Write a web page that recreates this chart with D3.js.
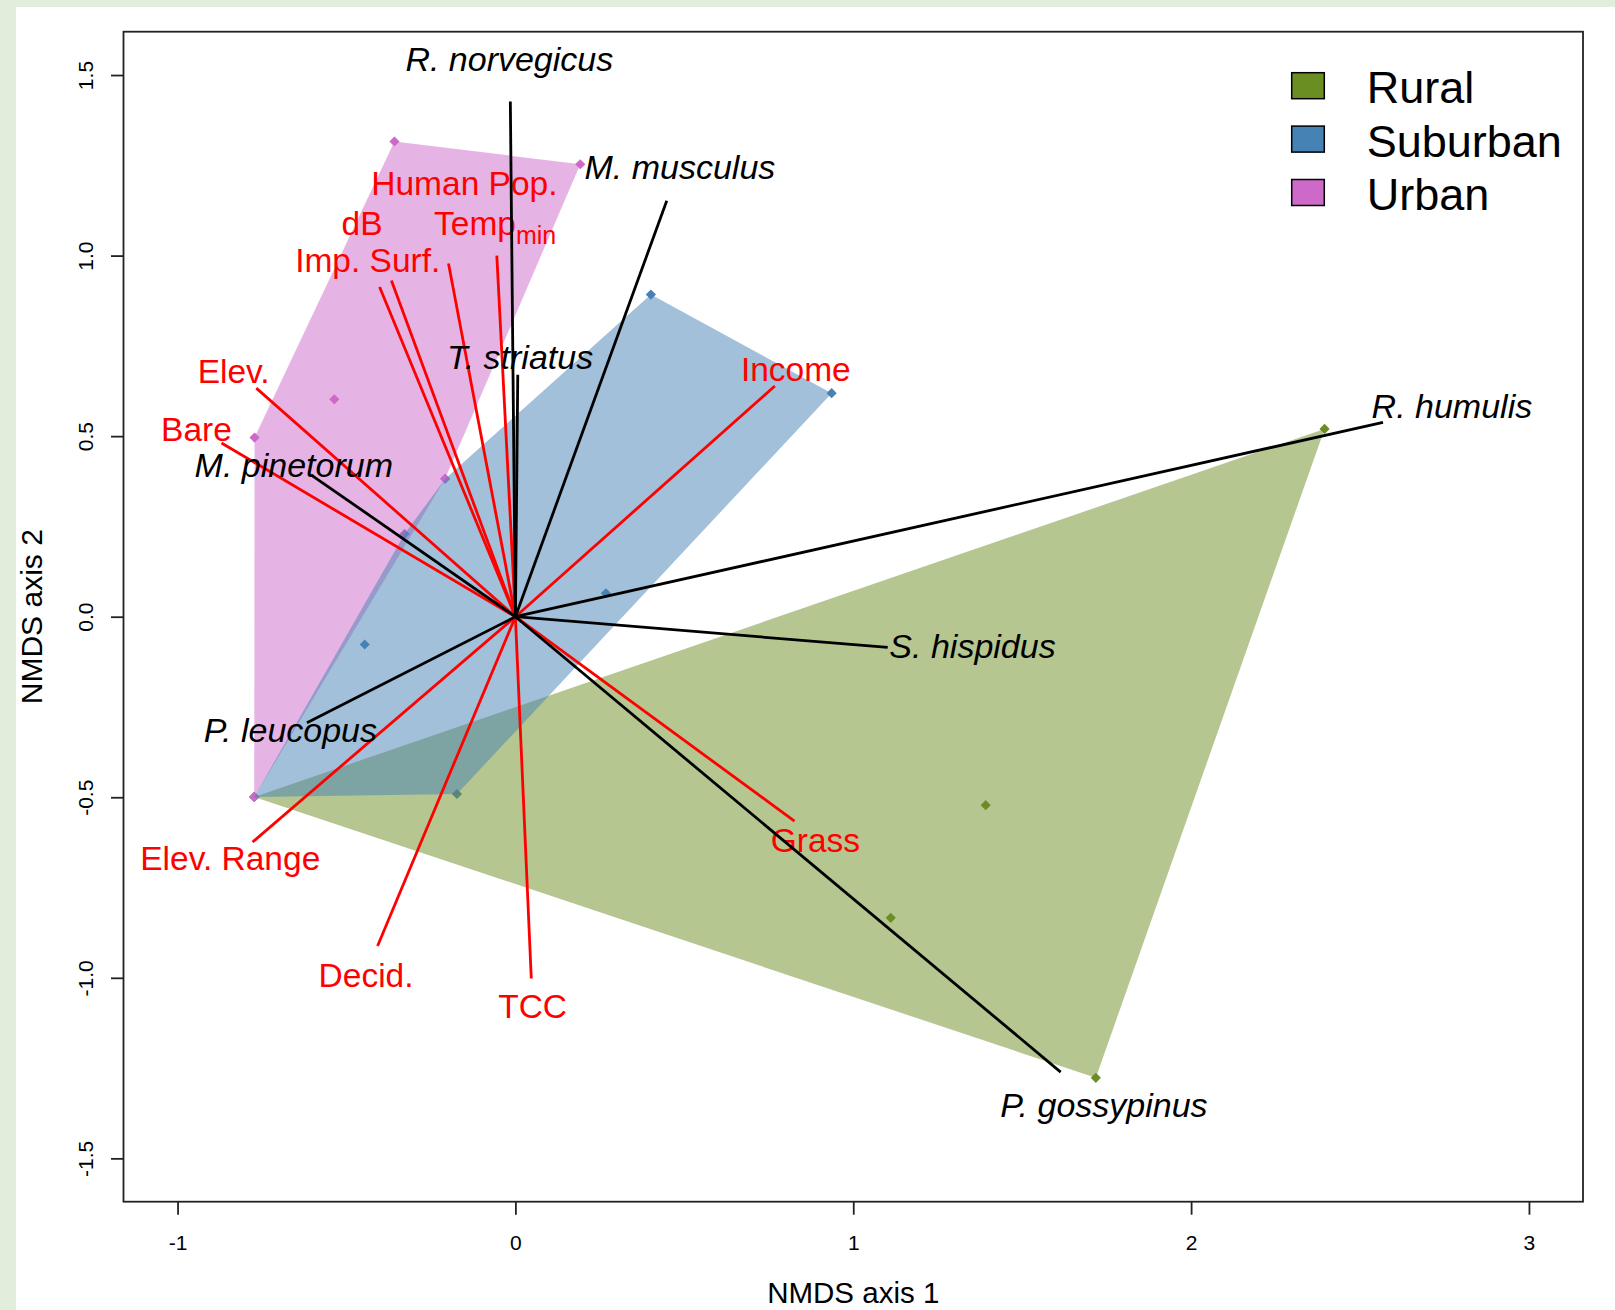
<!DOCTYPE html>
<html>
<head>
<meta charset="utf-8">
<script src="https://cdn.jsdelivr.net/npm/d3@7"></script>
<style>
  html, body { margin: 0; padding: 0; background: #ffffff; }
  svg { display: block; font-family: "Liberation Sans", Arial, sans-serif; }
</style>
</head>
<body>
<svg id="chart" width="1615" height="1310"></svg>
<script>
// ---- axis ticks ----
const xTicks = [-1, 0, 1, 2, 3];
const yTicks = [-1.5, -1, -0.5, 0, 0.5, 1, 1.5];

// ---- site groups (NMDS scores) ----
const groups = ["Rural", "Suburban", "Urban"];
const groupColors = ["#6B8E23", "#4682B4", "#CD69C9"];
const ruralSites = [[2.395, 0.520], [1.392, -0.522], [1.111, -0.834], [1.718, -1.277], [-0.773, -0.499]];
const suburbanSites = [[0.401, 0.892], [0.936, 0.619], [-0.208, 0.382], [-0.328, 0.229], [0.268, 0.065],
                       [-0.446, -0.077], [-0.173, -0.491], [-0.773, -0.499]];
const urbanSites = [[-0.358, 1.316], [0.192, 1.253], [-0.536, 0.602], [-0.772, 0.496], [-0.208, 0.382], [-0.773, -0.499]];
const hullOrder = ["Rural", "Urban", "Suburban"];

// ---- species vectors ----
const speciesNames = ["R. norvegicus", "M. musculus", "T. striatus", "M. pinetorum",
                      "P. leucopus", "S. hispidus", "R. humulis", "P. gossypinus"];
const speciesX = [-0.015, 0.448, 0.007, -0.605, -0.617, 1.102, 2.568, 1.614];
const speciesY = [1.427, 1.152, 0.670, 0.393, -0.294, -0.085, 0.538, -1.261];
const speciesLabelX = [-0.018, 0.487, 0.014, -0.656, -0.666, 1.353, 2.772, 1.742];
const speciesLabelY = [1.544, 1.246, 0.719, 0.421, -0.313, -0.082, 0.583, -1.353];

// ---- environmental vectors ----
const envNames = ["Human Pop.", "dB", "Temp_min", "Imp. Surf.", "Elev.", "Bare", "Income",
                  "Elev. Range", "Decid.", "TCC", "Grass"];
const envX = [-0.198, -0.367, -0.055, -0.402, -0.767, -0.870, 0.768, -0.778, -0.408, 0.047, 0.826];
const envY = [0.978, 0.931, 1.000, 0.913, 0.633, 0.481, 0.639, -0.624, -0.912, -1.002, -0.566];
const envLabelX = [-0.151, -0.454, -0.060, -0.437, -0.834, -0.944, 0.830, -0.844, -0.442, 0.051, 0.888];
const envLabelY = [1.199, 1.090, 1.090, 0.988, 0.680, 0.519, 0.686, -0.670, -0.994, -1.080, -0.618];

const svg = d3.select("#chart");
const W = 1615, H = 1310;
const plot = { left: 123.5, right: 1583, top: 31.7, bottom: 1201.7 };

const x = d3.scaleLinear().domain([-1.16, 3.16]).range([plot.left, plot.right]);
const y = d3.scaleLinear().domain([-1.62, 1.62]).range([plot.bottom, plot.top]);
const color = d3.scaleOrdinal().domain(groups).range(groupColors);
const sitesByGroup = { Rural: ruralSites, Suburban: suburbanSites, Urban: urbanSites };

// plain hyphen-minus for negative tick labels
const hyphen = f => v => f(v).replace("\u2212", "-");

// page background with the tinted frame strips
svg.append("rect").attr("width", W).attr("height", H).attr("fill", "#e2eedb");
svg.append("rect").attr("x", 16).attr("y", 7).attr("width", W - 16).attr("height", H - 7).attr("fill", "#ffffff");

svg.append("clipPath").attr("id", "plotClip")
  .append("rect").attr("x", plot.left).attr("y", plot.top)
  .attr("width", plot.right - plot.left).attr("height", plot.bottom - plot.top);

const inner = svg.append("g").attr("clip-path", "url(#plotClip)");

// site points (diamonds)
const diamond = d3.symbol(d3.symbolSquare, 52);
groups.forEach(g => {
  inner.append("g").selectAll("path").data(sitesByGroup[g]).join("path")
    .attr("d", diamond)
    .attr("transform", d => `translate(${x(d[0])},${y(d[1])}) rotate(45)`)
    .attr("fill", color(g));
});

// convex hulls per group, semi-transparent
hullOrder.forEach(g => {
  const pts = sitesByGroup[g].map(d => [x(d[0]), y(d[1])]);
  const hull = d3.polygonHull(pts);
  inner.append("path")
    .attr("d", "M" + hull.join("L") + "Z")
    .attr("fill", color(g))
    .attr("fill-opacity", 0.5);
});

// environmental vectors and labels (red)
envNames.forEach((n, i) => {
  inner.append("line")
    .attr("x1", x(0)).attr("y1", y(0))
    .attr("x2", x(envX[i])).attr("y2", y(envY[i]))
    .attr("stroke", "#ff0000").attr("stroke-width", 2.8);
});
envNames.forEach((n, i) => {
  const t = inner.append("text")
    .attr("x", x(envLabelX[i])).attr("y", y(envLabelY[i]))
    .attr("dy", "0.35em")
    .attr("text-anchor", "middle")
    .attr("font-size", 33.5)
    .attr("fill", "#ff0000");
  const parts = n.split("_");
  t.append("tspan").text(parts[0]);
  if (parts[1]) {
    t.append("tspan").attr("font-size", 25).attr("dy", 9).text(parts[1]);
  }
});

// species vectors and labels (black)
speciesNames.forEach((n, i) => {
  inner.append("line")
    .attr("x1", x(0)).attr("y1", y(0))
    .attr("x2", x(speciesX[i])).attr("y2", y(speciesY[i]))
    .attr("stroke", "#000000").attr("stroke-width", 2.8);
});
speciesNames.forEach((n, i) => {
  inner.append("text")
    .attr("x", x(speciesLabelX[i])).attr("y", y(speciesLabelY[i]))
    .attr("dy", "0.35em")
    .attr("text-anchor", "middle")
    .attr("font-size", 34)
    .attr("font-style", "italic")
    .attr("fill", "#000000")
    .text(n);
});

// plot frame
svg.append("rect")
  .attr("x", plot.left).attr("y", plot.top)
  .attr("width", plot.right - plot.left).attr("height", plot.bottom - plot.top)
  .attr("fill", "none").attr("stroke", "#222").attr("stroke-width", 1.8);

// axes
const xAxis = svg.append("g").attr("transform", `translate(0,${plot.bottom})`)
  .call(d3.axisBottom(x).tickValues(xTicks).tickSize(13).tickSizeOuter(0).tickFormat(hyphen(d3.format("d"))));
xAxis.select(".domain").remove();
xAxis.selectAll(".tick line").attr("stroke", "#222").attr("stroke-width", 1.8);
xAxis.selectAll(".tick text").attr("font-size", 21).attr("fill", "#000")
  .attr("font-family", "Liberation Sans, Arial, sans-serif")
  .attr("dy", null).attr("y", 48);

const yAxis = svg.append("g").attr("transform", `translate(${plot.left},0)`)
  .call(d3.axisLeft(y).tickValues(yTicks).tickSize(12.5).tickSizeOuter(0).tickFormat(hyphen(d3.format(".1f"))));
yAxis.select(".domain").remove();
yAxis.selectAll(".tick line").attr("stroke", "#222").attr("stroke-width", 1.8);
yAxis.selectAll(".tick text")
  .attr("font-size", 21).attr("fill", "#000")
  .attr("font-family", "Liberation Sans, Arial, sans-serif")
  .attr("x", null).attr("dy", null)
  .attr("text-anchor", "middle")
  .attr("transform", "translate(-31,0) rotate(-90)");

// axis titles
svg.append("text")
  .attr("x", (plot.left + plot.right) / 2).attr("y", 1303)
  .attr("text-anchor", "middle").attr("font-size", 29.5).attr("fill", "#000")
  .text("NMDS axis 1");
svg.append("text")
  .attr("transform", `translate(41.5,${(plot.top + plot.bottom) / 2}) rotate(-90)`)
  .attr("text-anchor", "middle").attr("font-size", 30).attr("fill", "#000")
  .text("NMDS axis 2");

// legend
const legend = svg.append("g").attr("transform", "translate(1291.7,72.7)");
groups.forEach((g, i) => {
  const row = legend.append("g").attr("transform", `translate(0,${i * 53.4})`);
  row.append("rect").attr("width", 32.6).attr("height", 26)
    .attr("fill", color(g)).attr("stroke", "#000").attr("stroke-width", 1.5);
  row.append("text").attr("x", 75).attr("y", 30.6)
    .attr("font-size", 45).attr("fill", "#000").text(g);
});
</script>
</body>
</html>
